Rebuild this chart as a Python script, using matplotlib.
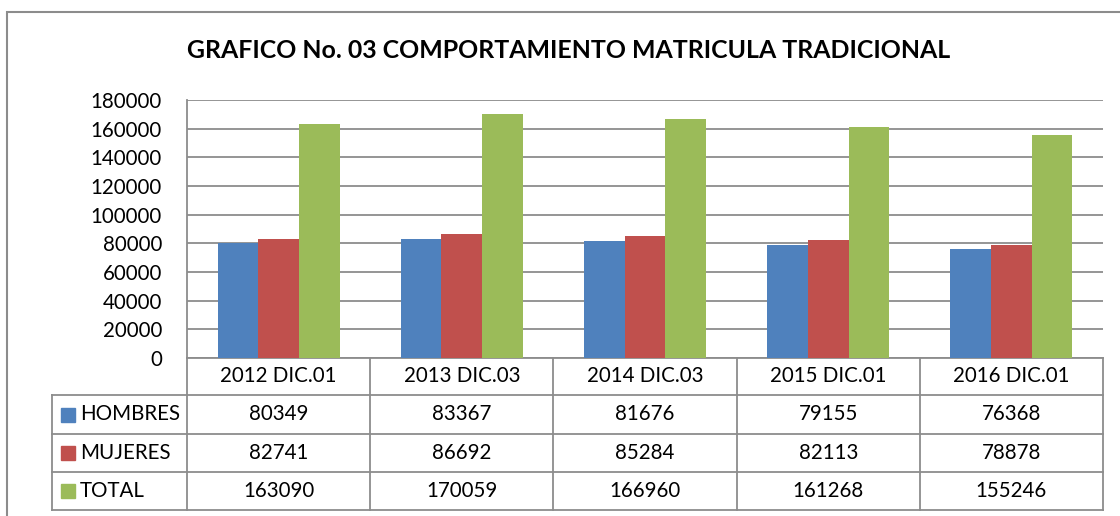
import matplotlib.pyplot as plt
from matplotlib.patches import Rectangle

categories = ['2012 DIC.01', '2013 DIC.03', '2014 DIC.03', '2015 DIC.01', '2016 DIC.01']
series_names = ['HOMBRES', 'MUJERES', 'TOTAL']
hombres = [80349, 83367, 81676, 79155, 76368]
mujeres = [82741, 86692, 85284, 82113, 78878]
total = [163090, 170059, 166960, 161268, 155246]
colors = ['#4F81BD', '#C0504D', '#9BBB59']

plt.rcParams['font.family'] = ['Lato', 'DejaVu Sans']

W, H = 1120, 516
fig = plt.figure(figsize=(W / 100, H / 100), dpi=100)

# plot area in pixels
left, right, top, bottom = 187, 1103, 100, 358
ax = fig.add_axes([left / W, 1 - bottom / H, (right - left) / W, (bottom - top) / H])

n = len(categories)
bw = 0.222
for k, vals in enumerate([hombres, mujeres, total]):
    xs = [i + (k - 1) * bw for i in range(n)]
    ax.bar(xs, vals, width=bw, color=colors[k], zorder=3, linewidth=0)

ax.set_xlim(-0.5, n - 0.5)
ax.set_ylim(0, 180000)
ax.set_yticks(range(0, 180001, 20000))
ax.set_xticks([])
ax.yaxis.grid(True, color='#8C8C8C', linewidth=1.3)
ax.tick_params(axis='y', length=0, pad=18, labelsize=14.8)
for s in ['top', 'right', 'bottom']:
    ax.spines[s].set_visible(False)
ax.spines['left'].set_color('#8C8C8C')
ax.spines['left'].set_linewidth(1.3)

fig.text(569 / W, 1 - 50 / H, 'GRAFICO No. 03 COMPORTAMIENTO MATRICULA TRADICIONAL',
         ha='center', va='center', fontsize=17.9, fontweight='bold')

# data table below the axes (x in data units, y in axes fraction)
tr = ax.get_xaxis_transform()
ph = bottom - top
rows_px = [0, 37, 76, 114, 152]
ys = [-r / ph for r in rows_px]
xlab = -0.5 - 135 / ((right - left) / n)
lc = '#8C8C8C'
lw = 1.3

# header row
ax.plot([-0.5, n - 0.5], [ys[0], ys[0]], transform=tr, color=lc, lw=lw, clip_on=False)
for i in range(n + 1):
    ax.plot([i - 0.5, i - 0.5], [ys[0], ys[-1]], transform=tr, color=lc, lw=lw, clip_on=False)
for i, c in enumerate(categories):
    ax.text(i, (ys[0] + ys[1]) / 2, c, transform=tr, ha='center', va='center', fontsize=14.8)

# series rows
for j in range(1, len(rows_px)):
    ax.plot([xlab, n - 0.5], [ys[j], ys[j]], transform=tr, color=lc, lw=lw, clip_on=False)
ax.plot([xlab, xlab], [ys[1], ys[-1]], transform=tr, color=lc, lw=lw, clip_on=False)

unit = (right - left) / n
for k, (name, vals) in enumerate(zip(series_names, [hombres, mujeres, total])):
    yc = (ys[k + 1] + ys[k + 2]) / 2
    sq = 14 / unit
    sqh = 14 / ph
    ax.add_patch(Rectangle((xlab + 9 / unit, yc - sqh / 2), sq, sqh, transform=tr,
                           color=colors[k], clip_on=False))
    ax.text(xlab + 28 / unit, yc, name, transform=tr, ha='left', va='center', fontsize=14.8)
    for i, v in enumerate(vals):
        ax.text(i, yc, str(v), transform=tr, ha='center', va='center', fontsize=14.8)

# chart outer border
fig.patches.append(Rectangle((7 / W, -0.1), 1.2, 1 - 12 / H + 0.1, transform=fig.transFigure,
                             fill=False, edgecolor='#8C8C8C', linewidth=1.5))

fig.savefig('out.png', dpi=100)
